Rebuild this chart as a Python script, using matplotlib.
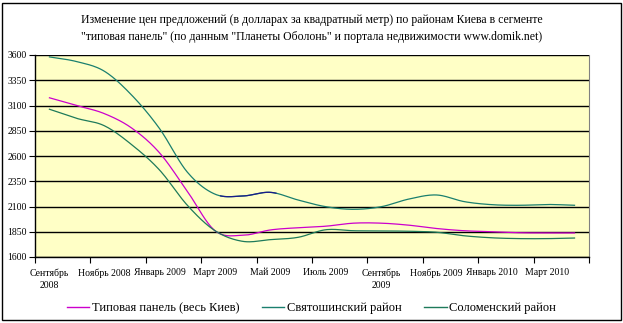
import numpy as np
import matplotlib
matplotlib.use("Agg")
import matplotlib.pyplot as plt
from matplotlib.patches import Rectangle

months = ["Сентябрь\n2008", "Октябрь 2008", "Ноябрь 2008", "Декабрь 2008", "Январь 2009",
          "Февраль 2009", "Март 2009", "Апрель 2009", "Май 2009", "Июнь 2009",
          "Июль 2009", "Август 2009", "Сентябрь\n2009", "Октябрь 2009", "Ноябрь 2009",
          "Декабрь 2009", "Январь 2010", "Февраль 2010", "Март 2010", "Апрель 2010"]

tipovaya = [3178, 3100, 3020, 2875, 2630, 2250, 1860, 1815, 1868, 1890,
            1905, 1935, 1935, 1915, 1882, 1860, 1850, 1840, 1838, 1838]
svyatoshinsky = [3582, 3535, 3440, 3200, 2870, 2440, 2222, 2204, 2240, 2164,
                 2098, 2072, 2098, 2174, 2214, 2148, 2118, 2112, 2120, 2112]
solomensky = [3065, 2973, 2900, 2710, 2460, 2112, 1860, 1755, 1772, 1795,
              1870, 1860, 1858, 1855, 1845, 1810, 1790, 1782, 1782, 1788]

yticks = [1600, 1850, 2100, 2350, 2600, 2850, 3100, 3350, 3600]

title = ("Изменение цен предложений (в долларах за квадратный метр) по районам Киева в сегменте\n"
         "\"типовая панель\" (по данным \"Планеты Оболонь\" и портала недвижимости www.domik.net)")

names = ["Типовая панель (весь Киев)", "Святошинский район", "Соломенский район"]
colors = ["#CC00CC", "#1A7F6E", "#1E7A5A"]

plt.rcParams['font.family'] = ['Liberation Serif', 'DejaVu Serif']


def smooth(y, n=20):
    # Catmull-Rom spline through the data points (drawing only)
    y = np.asarray(y, float)
    x = np.arange(len(y), dtype=float)
    P = np.concatenate([[2 * y[0] - y[1]], y, [2 * y[-1] - y[-2]]])
    xs, ys = [], []
    for i in range(len(y) - 1):
        p0, p1, p2, p3 = P[i], P[i + 1], P[i + 2], P[i + 3]
        t = np.linspace(0, 1, n, endpoint=False)
        yy = 0.5 * ((2 * p1) + (-p0 + p2) * t + (2 * p0 - 5 * p1 + 4 * p2 - p3) * t ** 2
                    + (-p0 + 3 * p1 - 3 * p2 + p3) * t ** 3)
        xs.append(x[i] + t)
        ys.append(yy)
    xs.append([x[-1]])
    ys.append([y[-1]])
    return np.concatenate(xs), np.concatenate(ys)


fig = plt.figure(figsize=(6.23, 3.23), dpi=100)
fig.patch.set_facecolor("white")
fig.patches.append(Rectangle((0.004, 0.008), 0.992, 0.984, transform=fig.transFigure,
                             fill=False, edgecolor="black", linewidth=1.0))

ax = fig.add_axes([35 / 623, (323 - 257) / 323, (589 - 35) / 623, (257 - 55) / 323])
ax.set_facecolor("#FFFFC6")

for vals, c in zip([tipovaya, svyatoshinsky, solomensky], colors):
    xs, ys = smooth(vals)
    ax.plot(xs, ys, color=c, linewidth=0.9, solid_capstyle="butt")

# dark blue segment visible on the upper curve in the original
xs, ys = smooth(svyatoshinsky)
m = (xs >= 6.2) & (xs <= 8.2)
ax.plot(xs[m], ys[m], color="#1A1A8A", linewidth=0.9)

ax.set_ylim(yticks[0], yticks[-1])
ax.set_yticks(yticks)
ax.set_xlim(-0.5, len(months) - 0.5)
ax.set_xticks(np.arange(0, len(months), 2))
ax.set_xticklabels(months[::2], fontsize=7, linespacing=1.5)
ax.set_xticks(np.arange(-0.5, len(months), 2), minor=True)
ax.tick_params(axis="x", which="major", length=0, pad=8)
ax.tick_params(axis="x", which="minor", length=4, width=0.8, direction="out")
ax.tick_params(axis="y", length=4, width=0.8, direction="out", labelsize=7, pad=2)
ax.grid(axis="y", color="black", linewidth=1.0)
ax.set_axisbelow(True)
for s in ["left", "bottom"]:
    ax.spines[s].set_color("black")
    ax.spines[s].set_linewidth(1.0)
ax.spines["right"].set_color("#808080")
ax.spines["right"].set_linewidth(0.8)
ax.spines["top"].set_visible(False)

fig.text(0.5, 0.912, title, ha="center", va="center", fontsize=8.5, linespacing=1.55)

handles = [plt.Line2D([], [], color=c, linewidth=1.0) for c in colors]
fig.legend(handles, names, loc="center", bbox_to_anchor=(0.5, 0.045), ncol=3, frameon=False,
           fontsize=9, handlelength=1.8, handletextpad=0.2, columnspacing=1.8)

fig.savefig("out.png", dpi=100)
